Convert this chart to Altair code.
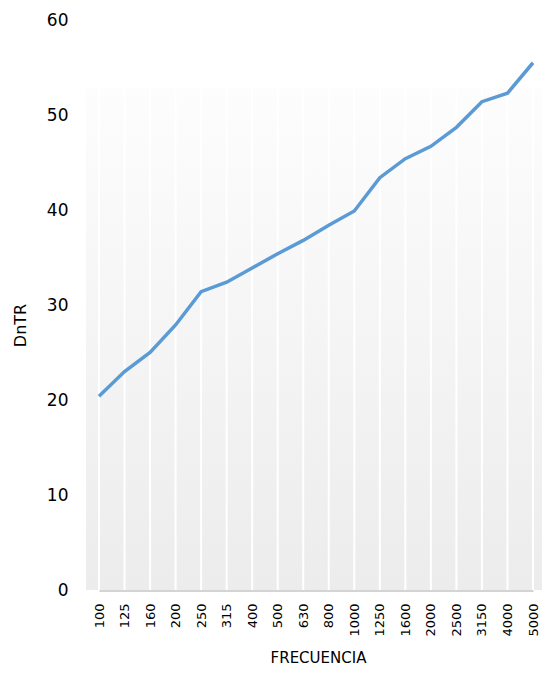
import altair as alt
import pandas as pd

frecuencias = ["100", "125", "160", "200", "250", "315", "400", "500", "630", "800",
               "1000", "1250", "1600", "2000", "2500", "3150", "4000", "5000"]
dntr = [20.4, 23.0, 25.0, 27.9, 31.4, 32.4, 33.9, 35.4, 36.8, 38.4,
        39.9, 43.4, 45.4, 46.7, 48.7, 51.4, 52.3, 55.5]

df = pd.DataFrame({"FRECUENCIA": frecuencias, "DnTR": dntr})

W = 456
H = 570
FONT = "DejaVu Sans"

xscale = alt.Scale(type="point", domain=frecuencias, range=[13, 447], padding=0)
yscale = alt.Scale(domain=[0, 60])

bg = alt.Chart(df.head(1)).mark_rect(
    fill=alt.Gradient(
        gradient="linear",
        stops=[alt.GradientStop(color="#fdfdfd", offset=0),
               alt.GradientStop(color="#ececec", offset=1)],
        x1=0, x2=0, y1=0, y2=1,
    )
).encode(
    x=alt.value(0), x2=alt.value(W), y=alt.value(68), y2=alt.value(H)
)

grid = alt.Chart(df).mark_rule(color="white", strokeWidth=2).encode(
    x=alt.X("FRECUENCIA:N", scale=xscale, sort=frecuencias),
    y=alt.value(68), y2=alt.value(H),
)

line = alt.Chart(df).mark_line(color="#5b9bd5", strokeWidth=3.5).encode(
    x=alt.X("FRECUENCIA:N", scale=xscale, sort=frecuencias,
            axis=alt.Axis(title="FRECUENCIA", labelAngle=270, labelAlign="right",
                          labelBaseline="middle", labelPadding=13,
                          labelFontSize=13, labelColor="#000000", labelFont=FONT,
                          ticks=False, grid=False, domainColor="#d4d4d4",
                          domainWidth=3, titleFont=FONT, titleFontSize=15,
                          titleFontWeight="normal", titleColor="#000000",
                          titlePadding=14, titleX=232)),
    y=alt.Y("DnTR:Q", scale=yscale,
            axis=alt.Axis(title="DnTR", values=[0, 10, 20, 30, 40, 50, 60],
                          labelFontSize=17, labelColor="#000000", labelFont=FONT,
                          labelPadding=18, ticks=False, domain=False, grid=False,
                          titleFont=FONT, titleFontSize=16, titleFontWeight="normal",
                          titleColor="#000000", titleX=-58, titleY=305)),
)

chart = alt.layer(bg, grid, line).properties(
    width=W, height=H,
    autosize=alt.AutoSizeParams(type="none"),
    padding={"left": 78, "top": 12, "right": 0, "bottom": 76},
).configure_view(stroke=None)

chart.save("out.html", embed_options={"renderer": "svg", "actions": False})
